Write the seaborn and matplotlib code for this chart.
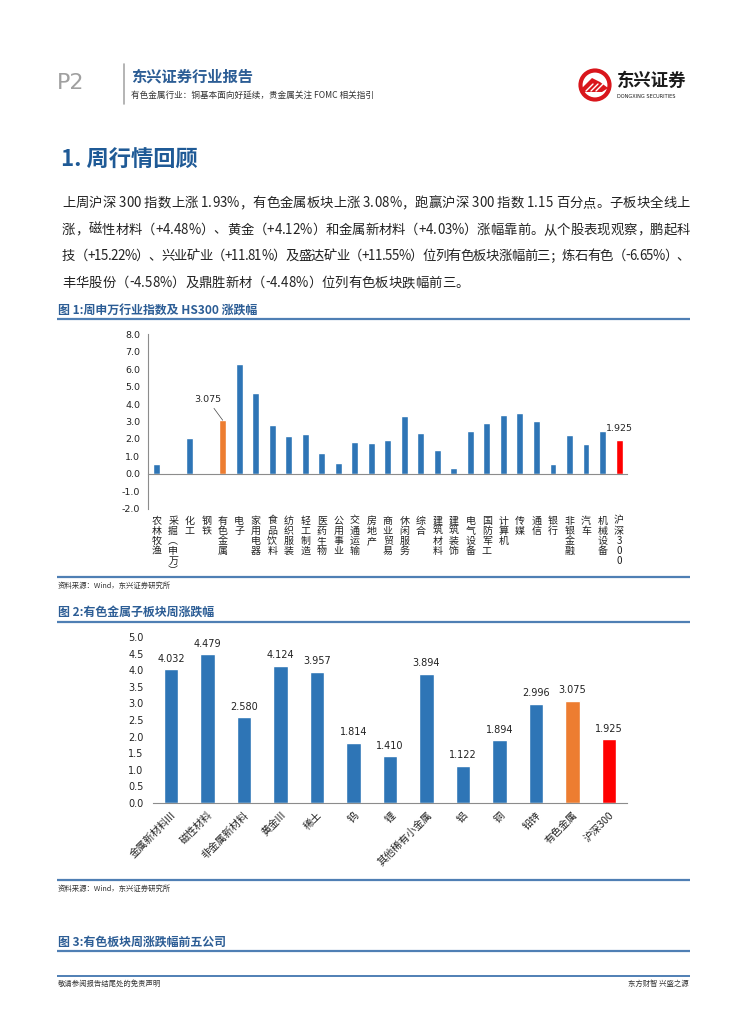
"""Weekly nonferrous metals report page: two bar charts with page decorations."""

import matplotlib
matplotlib.use("Agg")
import matplotlib.pyplot as plt
import seaborn as sns
from matplotlib.font_manager import FontProperties
from matplotlib.patches import Circle, Polygon

# ---- data -----------------------------------------------------------------
industries = ["农林牧渔", "采掘︵申万︶", "化工", "钢铁", "有色金属", "电子", "家用电器",
              "食品饮料", "纺织服装", "轻工制造", "医药生物", "公用事业", "交通运输",
              "房地产", "商业贸易", "休闲服务", "综合", "建筑材料", "建筑装饰",
              "电气设备", "国防军工", "计算机", "传媒", "通信", "银行", "非银金融",
              "汽车", "机械设备", "沪深300"]
industry_chg = [0.58, -0.07, 2.07, 0.01, 3.075, 6.31, 4.64, 2.78, 2.15, 2.28, 1.19,
                0.63, 1.84, 1.77, 1.94, 3.30, 2.32, 1.36, 0.31, 2.46, 2.90, 3.40,
                3.51, 3.03, 0.54, 2.25, 1.69, 2.48, 1.925]

sub_sectors = ["金属新材料III", "磁性材料", "非金属新材料", "黄金III", "稀土", "钨", "锂",
               "其他稀有小金属", "铝", "铜", "铅锌", "有色金属", "沪深300"]
sub_chg = [4.032, 4.479, 2.580, 4.124, 3.957, 1.814, 1.410, 3.894, 1.122, 1.894,
           2.996, 3.075, 1.925]

BLUE, ORANGE, RED = "#2e75b6", "#ed7d31", "#ff0000"
HILITE = {"有色金属": ORANGE, "沪深300": RED}

paragraph = [
    "上周沪深 300 指数上涨 1.93%，有色金属板块上涨 3.08%，跑赢沪深 300 指数 1.15 百分点。子板块全线上",
    "涨，磁性材料（+4.48%）、黄金（+4.12%）和金属新材料（+4.03%）涨幅靠前。从个股表现观察，鹏起科",
    "技（+15.22%）、兴业矿业（+11.81%）及盛达矿业（+11.55%）位列有色板块涨幅前三；炼石有色（-6.65%）、",
    "丰华股份（-4.58%）及鼎胜新材（-4.48%）位列有色板块跌幅前三。",
]

# ---- style ----------------------------------------------------------------
sns.set_style("white")
FAMILY = ["Noto Sans CJK SC", "DejaVu Sans"]
plt.rcParams["font.family"] = FAMILY
plt.rcParams["axes.unicode_minus"] = False

W, H = 755, 1024
fig = plt.figure(figsize=(W / 100, H / 100), dpi=100)
renderer = fig.canvas.get_renderer()

# page overlay in pixel coordinates (decorations only)
deco = fig.add_axes([0, 0, 1, 1], zorder=0)
deco.set_xlim(0, W)
deco.set_ylim(H, 0)
deco.axis("off")

TITLE_BLUE = "#2c5d95"
RULE = "#4f7fb4"


def rule(y, lw=1.6, x0=57, x1=690):
    deco.plot([x0, x1], [y, y], color=RULE, lw=lw, solid_capstyle="butt")


def pix_axes(left, top, right, bottom):
    return fig.add_axes([left / W, 1 - bottom / H, (right - left) / W, (bottom - top) / H])


def justified_line(s, y, x0, x1, size, stretch=True):
    """Lay out one paragraph line with even inter-character spacing."""
    prop = FontProperties(family=FAMILY, size=size)

    def width(t):
        return renderer.get_text_width_height_descent(t, prop, ismath=False)[0]

    ref = width("|")
    pos = [0.0] + [width(s[:k] + "|") - ref for k in range(1, len(s) + 1)]
    extra = (x1 - x0 - pos[-1]) / (len(s) - 1) if stretch else 0.0
    for k, ch in enumerate(s):
        if ch != " ":
            deco.text(x0 + pos[k] + k * extra, y, ch, fontproperties=prop,
                      color="#222222", va="center", ha="left")


# header
deco.text(57, 83, "P2", fontsize=16, color="#a0a0a0", va="center", family="DejaVu Sans")
deco.plot([124, 124], [64, 104], color="#a8a8a8", lw=1.2)
deco.text(131, 77, "东兴证券行业报告", fontsize=11, fontweight="bold", color=TITLE_BLUE, va="center")
deco.text(131, 95, "有色金属行业：铜基本面向好延续，贵金属关注 FOMC 相关指引", fontsize=6.2,
          color="#333333", va="center")

# logo
deco.add_patch(Circle((595, 85), 14.5, fill=False, ec="#d9161c", lw=3.0))
deco.add_patch(Polygon([(582, 88), (592, 78), (600, 82), (608, 88), (602, 92), (582, 92)],
                       closed=True, fc="#d9161c", ec="none"))
for dx in (0, 5, 10):
    deco.plot([586 + dx, 593 + dx], [91, 84], color="white", lw=1.0)
deco.text(617, 81, "东兴证券", fontsize=12.5, fontweight="bold", color="#1a1a1a", va="center")
deco.text(617, 96, "DONGXING SECURITIES", fontsize=3.6, color="#1a1a1a", va="center",
          family="DejaVu Sans")

# section heading and paragraph
deco.text(61, 160, "1. 周行情回顾", fontsize=16, fontweight="bold", color="#1f5a96", va="center")
for i, line in enumerate(paragraph):
    justified_line(line, 203 + i * 26.6, 62, 690, 9.6, stretch=i < len(paragraph) - 1)

# figure 1 title block
deco.text(58, 310, "图 1:周申万行业指数及 HS300 涨跌幅", fontsize=8.6, fontweight="bold",
          color=TITLE_BLUE, va="center")
rule(319)
rule(577)
deco.text(58, 586, "资料来源：Wind，东兴证券研究所", fontsize=5.3, style="italic",
          color="#333333", va="center")

# figure 2 title block
deco.text(58, 612, "图 2:有色金属子板块周涨跌幅", fontsize=8.6, fontweight="bold",
          color=TITLE_BLUE, va="center")
rule(622)
rule(880)
deco.text(58, 889, "资料来源：Wind，东兴证券研究所", fontsize=5.3, style="italic",
          color="#333333", va="center")

# figure 3 title and footer
deco.text(58, 942, "图 3:有色板块周涨跌幅前五公司", fontsize=8.6, fontweight="bold",
          color=TITLE_BLUE, va="center")
rule(951)
rule(976, lw=1.4)
deco.text(58, 984, "敬请参阅报告结尾处的免责声明", fontsize=5.3, color="#333333", va="center")
deco.text(689, 984, "东方财智 兴盛之源", fontsize=5.3, color="#333333", va="center", ha="right")

AX_GREY = "#8c8c8c"

# ---- chart 1 --------------------------------------------------------------
ax1 = pix_axes(148.4, 334.3, 627.3, 508.8)
colors1 = [HILITE.get(c, BLUE) for c in industries]
sns.barplot(x=industries, y=industry_chg, hue=industries, palette=colors1, legend=False,
            width=0.42, saturation=1, ax=ax1)
n1 = len(industries)
ax1.set_xlim(-0.5, n1 - 0.5)
ax1.set_ylim(-2.0, 8.0)
ax1.set_yticks([v for v in range(-2, 9)])
ax1.set_yticklabels([f"{v:.1f}" for v in range(-2, 9)], fontsize=6.8, family="DejaVu Sans")
for s in ("top", "right"):
    ax1.spines[s].set_visible(False)
ax1.spines["left"].set_color(AX_GREY)
ax1.spines["left"].set_linewidth(0.8)
ax1.spines["bottom"].set_position(("data", 0))
ax1.spines["bottom"].set_color(AX_GREY)
ax1.spines["bottom"].set_linewidth(0.8)
ax1.set_xticks(range(n1))
ax1.set_xticklabels(["\n".join(c) for c in industries], fontsize=7.2, va="top",
                    linespacing=1.02)
ax1.set_xticks([i - 0.5 for i in range(n1 + 1)], minor=True)
ax1.tick_params(axis="x", which="major", length=0, pad=30, colors="#222222")
ax1.tick_params(axis="x", which="minor", direction="out", length=3, color=AX_GREY, width=0.8)
ax1.tick_params(axis="y", direction="out", length=3, color=AX_GREY, width=0.8, pad=3,
                labelcolor="#222222")
ax1.set_xlabel("")
ax1.set_ylabel("")

i_nf = industries.index("有色金属")
ax1.annotate(f"{industry_chg[i_nf]:.3f}", xy=(i_nf, industry_chg[i_nf]), xytext=(-11, 15),
             textcoords="offset points", ha="center", va="center", fontsize=6.8,
             family="DejaVu Sans", arrowprops=dict(arrowstyle="-", lw=0.5, color="#444444",
                                                   shrinkA=1, shrinkB=0))
i_hs = industries.index("沪深300")
ax1.annotate(f"{industry_chg[i_hs]:.3f}", xy=(i_hs, industry_chg[i_hs]), xytext=(0, 8.5),
             textcoords="offset points", ha="center", va="center", fontsize=6.8,
             family="DejaVu Sans")

# ---- chart 2 --------------------------------------------------------------
ax2 = pix_axes(152.7, 636.9, 627.3, 803.1)
colors2 = [HILITE.get(c, BLUE) for c in sub_sectors]
sns.barplot(x=sub_sectors, y=sub_chg, hue=sub_sectors, palette=colors2, legend=False,
            width=0.4, saturation=1, ax=ax2)
n2 = len(sub_sectors)
ax2.set_xlim(-0.5, n2 - 0.5)
ax2.set_ylim(0, 5.0)
yt2 = [k * 0.5 for k in range(11)]
ax2.set_yticks(yt2)
ax2.set_yticklabels([f"{v:.1f}" for v in yt2], fontsize=7, family="DejaVu Sans")
for s in ("top", "right", "left"):
    ax2.spines[s].set_visible(False)
ax2.spines["bottom"].set_color(AX_GREY)
ax2.spines["bottom"].set_linewidth(0.8)
ax2.set_xticks(range(n2))
ax2.set_xticklabels(sub_sectors, fontsize=7.4, rotation=45, ha="right", rotation_mode="anchor")
ax2.set_xticks([i - 0.5 for i in range(n2 + 1)], minor=True)
ax2.tick_params(axis="x", which="major", length=0, pad=5, colors="#222222")
ax2.tick_params(axis="x", which="minor", direction="out", length=3, color=AX_GREY, width=0.8)
ax2.tick_params(axis="y", direction="out", length=2.5, color=AX_GREY, width=0.8, pad=4,
                labelcolor="#222222")
ax2.set_xlabel("")
ax2.set_ylabel("")
for cont in ax2.containers:
    ax2.bar_label(cont, fmt="%.3f", padding=4, fontsize=7, family="DejaVu Sans",
                  color="#222222")

fig.savefig("out.png", dpi=100)
